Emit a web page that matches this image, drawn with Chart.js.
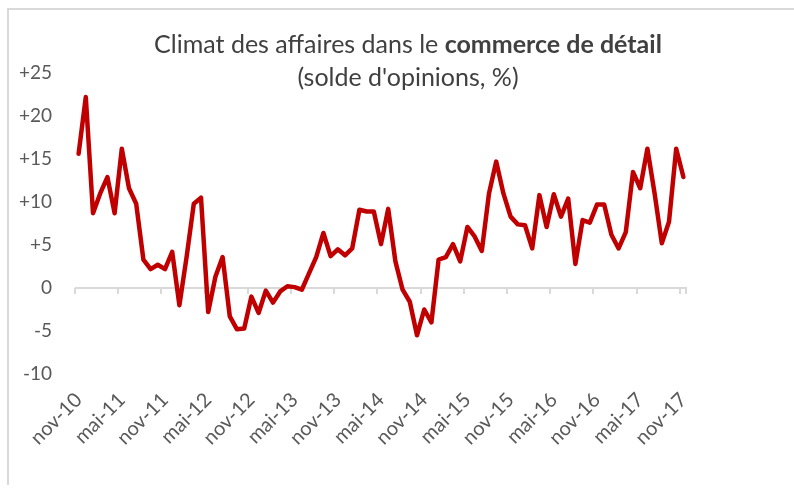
<!DOCTYPE html>
<html>
<head>
<meta charset="utf-8">
<script src="https://cdn.jsdelivr.net/npm/chart.js@4/dist/chart.umd.min.js"></script>
<style>
  body { margin: 0; background: #fff; }
  #wrap { position: relative; width: 794px; height: 488px; }
  #frame { position: absolute; left: 7px; top: 8px; right: 0; bottom: 3px;
           border-top: 2px solid #d9d9d9; border-left: 2px solid #d9d9d9; }
  #title { position: absolute; left: 0; width: 816px; top: 27px; text-align: center;
           font-family: Lato, sans-serif; font-size: 25px; line-height: 33px; color: #404040; }
  #chartBox { position: absolute; left: 0; top: 0; width: 794px; height: 488px; }
</style>
</head>
<body>
<div id="wrap">
  <div id="frame"></div>
  <div id="chartBox"><canvas id="myChart"></canvas></div>
  <div id="title">Climat des affaires dans le <b>commerce de détail</b><br>(solde d'opinions, %)</div>
</div>
<script>
const months = [
  "nov-10", "déc-10",
  "janv-11", "févr-11", "mars-11", "avr-11", "mai-11", "juin-11", "juil-11", "août-11", "sept-11", "oct-11", "nov-11", "déc-11",
  "janv-12", "févr-12", "mars-12", "avr-12", "mai-12", "juin-12", "juil-12", "août-12", "sept-12", "oct-12", "nov-12", "déc-12",
  "janv-13", "févr-13", "mars-13", "avr-13", "mai-13", "juin-13", "juil-13", "août-13", "sept-13", "oct-13", "nov-13", "déc-13",
  "janv-14", "févr-14", "mars-14", "avr-14", "mai-14", "juin-14", "juil-14", "août-14", "sept-14", "oct-14", "nov-14", "déc-14",
  "janv-15", "févr-15", "mars-15", "avr-15", "mai-15", "juin-15", "juil-15", "août-15", "sept-15", "oct-15", "nov-15", "déc-15",
  "janv-16", "févr-16", "mars-16", "avr-16", "mai-16", "juin-16", "juil-16", "août-16", "sept-16", "oct-16", "nov-16", "déc-16",
  "janv-17", "févr-17", "mars-17", "avr-17", "mai-17", "juin-17", "juil-17", "août-17", "sept-17", "oct-17", "nov-17",
];

// solde d'opinions, %
const climat = [
  15.6, 22.2, 8.7, 11.0, 12.9, 8.7, 16.2, 11.6, 9.8, 3.3,
  2.2, 2.7, 2.2, 4.2, -2.0, 3.6, 9.8, 10.5, -2.8, 1.3,
  3.6, -3.3, -4.8, -4.7, -1.0, -2.9, -0.3, -1.7, -0.4, 0.2,
  0.1, -0.2, 1.7, 3.6, 6.4, 3.7, 4.5, 3.8, 4.6, 9.1,
  8.9, 8.9, 5.1, 9.2, 3.1, -0.2, -1.6, -5.5, -2.5, -4.0,
  3.3, 3.6, 5.1, 3.1, 7.1, 6.0, 4.3, 11.0, 14.7, 11.0,
  8.3, 7.4, 7.3, 4.6, 10.8, 7.1, 10.9, 8.3, 10.4, 2.8,
  7.9, 7.6, 9.7, 9.7, 6.2, 4.6, 6.5, 13.5, 11.6, 16.2,
  11.0, 5.2, 7.7, 16.2, 12.9,
];

const yTicks = [-10, -5, 0, 5, 10, 15, 20, 25];
const labelEvery = 6;

// axis line at zero with tick marks between categories
const zeroAxis = {
  id: "zeroAxis",
  beforeDatasetsDraw: (chart) => {
    const { ctx, scales: { x, y } } = chart;
    const y0 = y.getPixelForValue(0);
    const x0 = x.getPixelForValue(-0.5);
    const x1 = x.getPixelForValue(months.length - 0.5);
    ctx.save();
    ctx.strokeStyle = "#d9d9d9";
    ctx.lineWidth = 2;
    ctx.beginPath();
    ctx.moveTo(x0, y0);
    ctx.lineTo(x1, y0);
    for (let i = 0; i <= months.length; i += labelEvery) {
      const px = Math.round(x.getPixelForValue(i - 0.5));
      ctx.moveTo(px, y0);
      ctx.lineTo(px, y0 + 6);
    }
    ctx.moveTo(Math.round(x1) - 1, y0);
    ctx.lineTo(Math.round(x1) - 1, y0 + 6);
    ctx.stroke();
    ctx.restore();
  },
};

const config = {
  type: "line",
  data: {
    labels: months,
    datasets: [
      {
        data: climat,
        borderColor: "#c00000",
        borderWidth: 4.5,
        borderJoinStyle: "round",
        borderCapStyle: "round",
        pointRadius: 0,
        tension: 0,
        fill: false,
      },
    ],
  },
  options: {
    responsive: true,
    maintainAspectRatio: false,
    animation: false,
    layout: { padding: { left: 0, top: 73, right: 107, bottom: 0 } },
    plugins: { legend: { display: false }, title: { display: false }, tooltip: { enabled: false } },
    scales: {
      x: {
        type: "category",
        offset: true,
        grid: { display: false, drawTicks: false },
        border: { display: false },
        afterFit: (scale) => { scale.height = 114; },
        ticks: {
          autoSkip: false,
          maxRotation: 45,
          minRotation: 45,
          padding: 14,
          color: "#595959",
          font: { family: "Lato", size: 20 },
          callback: (value, index) => (index % labelEvery === 0 ? months[index] : ""),
        },
      },
      y: {
        min: -10,
        max: 25,
        grid: { display: false, drawTicks: false },
        border: { display: false },
        afterFit: (scale) => { scale.width = 75; },
        afterBuildTicks: (scale) => { scale.ticks = yTicks.map((v) => ({ value: v })); },
        ticks: {
          padding: 23,
          color: "#595959",
          font: { family: "Lato", size: 19 },
          callback: (v) => (v > 0 ? "+" + v : String(v)),
        },
      },
    },
  },
  plugins: [zeroAxis],
};

const myChart = new Chart(document.getElementById("myChart"), config);
</script>
</body>
</html>
